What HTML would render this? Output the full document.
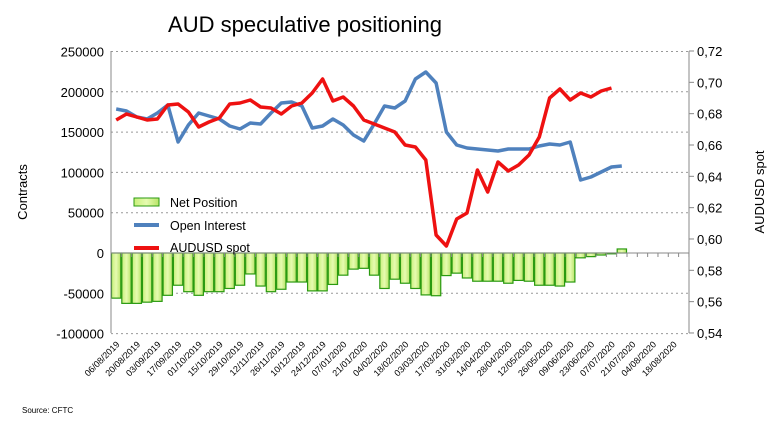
<!DOCTYPE html>
<html><head><meta charset="utf-8"><style>
body{margin:0;background:#fff;width:781px;height:429px;overflow:hidden;font-family:"Liberation Sans",sans-serif}
</style></head><body>
<svg id="s" width="781" height="429" xmlns="http://www.w3.org/2000/svg" font-family="Liberation Sans, sans-serif">
<defs><linearGradient id="g" x1="0" x2="1"><stop offset="0" stop-color="#c8f07a"/><stop offset="0.5" stop-color="#e6fbb0"/><stop offset="1" stop-color="#b8e468"/></linearGradient></defs>
<text x="305" y="32" font-size="22" text-anchor="middle">AUD speculative positioning</text>
<g id="grid" stroke="#999" stroke-dasharray="2,3" stroke-width="1"></g>
<g id="bars"></g>
<line x1="111" y1="253" x2="689" y2="253" stroke="#888"/>
<g id="ticks" stroke="#888"></g>
<line x1="111" y1="51" x2="111" y2="333" stroke="#888"/>
<line x1="689" y1="51" x2="689" y2="333" stroke="#888"/>
<polyline id="oi" fill="none" stroke="#4f81bd" stroke-width="3.5" stroke-linejoin="round"/>
<polyline id="au" fill="none" stroke="#ee1111" stroke-width="3.5" stroke-linejoin="round"/>
<g id="lab" font-size="13"></g>
<g id="xl" font-size="9"></g>
<text transform="translate(27,192) rotate(-90)" font-size="13" text-anchor="middle">Contracts</text>
<text transform="translate(764,192) rotate(-90)" font-size="13" text-anchor="middle">AUDUSD spot</text>
<rect x="134" y="198" width="25" height="8" fill="url(#g)" stroke="#2a9a10"/>
<text x="170" y="207" font-size="12.5">Net Position</text>
<line x1="134" y1="225" x2="159" y2="225" stroke="#4f81bd" stroke-width="4"/>
<text x="170" y="230" font-size="12.5">Open Interest</text>
<line x1="134" y1="248" x2="159" y2="248" stroke="#ee1111" stroke-width="4"/>
<text x="170" y="252" font-size="12.5">AUDUSD spot</text>
<text x="22" y="413" font-size="8">Source: CFTC</text>
</svg>
<script>
var NS="http://www.w3.org/2000/svg",w=10.32,x0=111;
function el(p,t,a,tx){var e=document.createElementNS(NS,t);for(var k in a)e.setAttribute(k,a[k]);if(tx!=null)e.textContent=tx;document.getElementById(p).appendChild(e);}
function Y(v){return 253-v/50000*40.3;}
for(var v=-100000;v<=250000;v+=50000){if(v!=0)el("grid","line",{x1:111,x2:689,y1:Y(v),y2:Y(v)});el("lab","text",{x:104,y:Y(v)+5,"text-anchor":"end"},v);}
for(var i=0;i<10;i++){var r=(0.72-i*0.02).toFixed(2).replace(".",","),y=51+i*31.33;el("lab","text",{x:697,y:y+5},r);el("ticks","line",{x1:689,x2:694,y1:y,y2:y});}
var nb=[-56,-62.5,-62.5,-61,-60,-52.5,-40,-48,-52.5,-48,-48,-44,-40,-26,-41,-48,-45,-36,-36,-47,-47,-39,-27.5,-20,-19,-27.5,-44,-32.5,-37.5,-44,-52,-53,-28,-25,-31,-35,-35,-35,-37.5,-34,-35,-40,-40,-41,-36,-6,-4.5,-2.5,-1,5];
nb.forEach(function(v,i){v*=1000;var a=Y(Math.max(v,0)),b=Y(Math.min(v,0));el("bars","rect",{x:x0+i*w+0.5,y:a,width:w-1,height:b-a,fill:"url(#g)",stroke:"#2a9a10","stroke-width":1.2});});
for(var i=0;i<=56;i++)el("ticks","line",{x1:x0+i*w,x2:x0+i*w,y1:253,y2:257});
var oi=[109,111,117,119,113,105,142,125,113,116,119,126,129,123,124,113,103,102,106,128,126,119,125,135,141,124,106,108,101,79,72,83,132,145,148,149,150,151,149,149,149,146,144,145,142,180,177,172,167,166];
var au=[120,114,117,120,119,105,104,112,127,122,118,104,103,100,107,108,114,106,103,93,79,101,97,106,120,124,128,132,145,147,160,235,246,219,213,170,192,162,171,165,155,137,98,89,100,93,97,91,88];
function pts(a){return a.map(function(y,i){return (x0+(i+0.5)*w).toFixed(1)+","+y}).join(" ");}
document.getElementById("oi").setAttribute("points",pts(oi));
document.getElementById("au").setAttribute("points",pts(au));
var d=new Date(2019,7,6);
for(var i=0;i<28;i++){var t=new Date(d.getTime()+i*14*864e5);var s=("0"+t.getDate()).slice(-2)+"/"+("0"+(t.getMonth()+1)).slice(-2)+"/"+t.getFullYear();var x=x0+(2*i+0.5)*w+4;el("xl","text",{x:x,y:345,"text-anchor":"end",transform:"rotate(-45 "+x+" 345)"},s);}
</script>
</body></html>
